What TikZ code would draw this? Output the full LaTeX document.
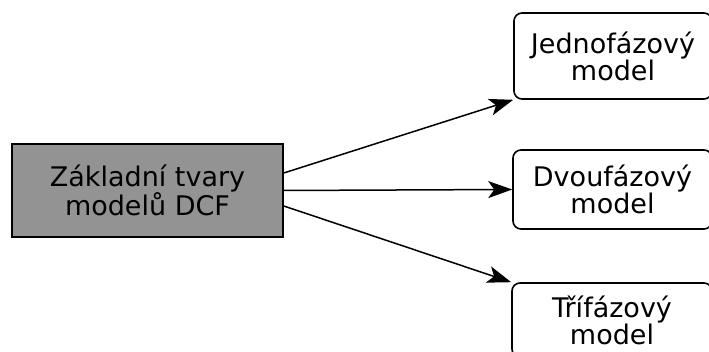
\documentclass[tikz,border=0pt]{standalone}
\usepackage{fontspec}
\setmainfont{DejaVu Sans}
\usetikzlibrary{arrows.meta}
\definecolor{boxgray}{RGB}{147,147,147}
\begin{document}
\begin{tikzpicture}[x=1pt,y=1pt,
  lbl/.style={font=\fontsize{27}{25}\selectfont, align=center, inner sep=0pt},
  mainbox/.style={lbl, draw, line width=1.6pt, fill=boxgray},
  subbox/.style={lbl, draw, line width=1.6pt, fill=white, rounded corners=8pt},
  conn/.style={line width=1.5pt, -{Stealth[length=24pt,width=17pt,inset=6pt]}}]
\useasboundingbox (0,0) rectangle (709,352);
\node[mainbox, minimum width=271pt, minimum height=93pt] (main) at (147.5,161.5) {Základní tvary\\modelů DCF};
\node[subbox, minimum width=198pt, minimum height=86pt] (one) at (613,296) {Jednofázový\\model};
\node[subbox, minimum width=199pt, minimum height=79pt] (two) at (612.5,162.5) {Dvoufázový\\model};
\node[subbox, minimum width=200pt, minimum height=74pt] (three) at (612,32) {Třífázový\\model};
\coordinate (s1) at ([yshift=17.5pt]main.east);
\coordinate (s3) at ([yshift=-15.5pt]main.east);
\draw[conn] (s1) -- (one.south west);
\draw[conn] (main.east) -- (two.west);
\draw[conn] (s3) -- (three.north west);
\end{tikzpicture}
\end{document}
